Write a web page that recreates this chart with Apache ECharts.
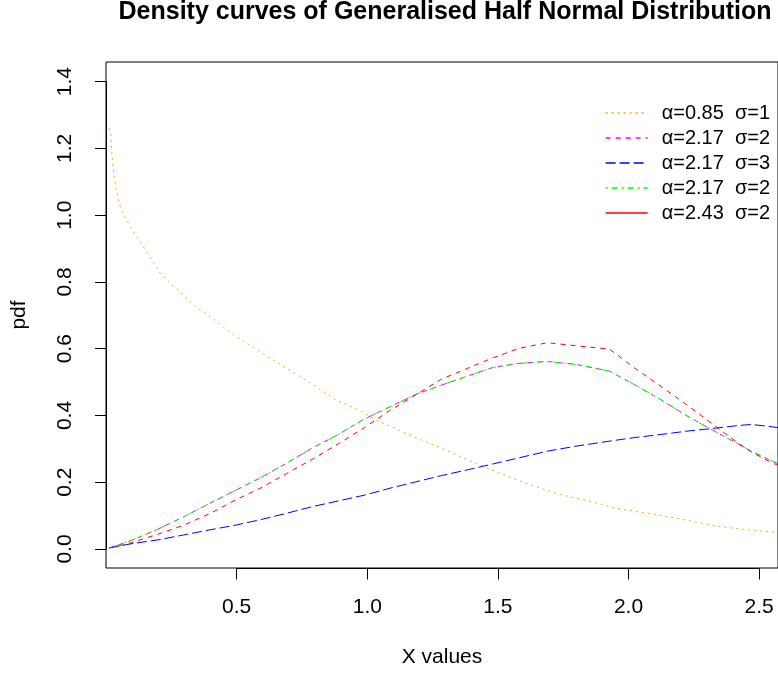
<!DOCTYPE html>
<html>
<head>
<meta charset="utf-8">
<script src="https://cdn.jsdelivr.net/npm/echarts@6/dist/echarts.min.js"></script>
<style>
html, body { margin: 0; padding: 0; background: #fff; }
#chart { width: 778px; height: 673px; }
</style>
</head>
<body>
<div id="chart"></div>
<script>
// values

// orange curve, alpha=0.85 sigma=1
var xOrange = [0.013, 0.019, 0.023, 0.028, 0.034, 0.044, 0.057, 0.072, 0.095, 0.12, 0.146, 0.184, 0.209, 0.248, 0.292, 0.343,
	0.42, 0.48, 0.58, 0.68, 0.79, 0.89, 0.99, 1.04, 1.12, 1.21, 1.3, 1.41, 1.46, 1.57, 1.66, 1.76, 1.89, 1.97, 2.07, 2.12,
	2.25, 2.37, 2.5, 2.56, 2.63];
var yOrange = [1.26, 1.24, 1.18, 1.14, 1.10, 1.06, 1.02, 0.995, 0.964, 0.934, 0.904, 0.856, 0.826, 0.796, 0.766, 0.728,
	0.686, 0.648, 0.598, 0.55, 0.497, 0.446, 0.412, 0.387, 0.36, 0.329, 0.301, 0.263, 0.247, 0.212, 0.187, 0.162, 0.139, 0.122, 0.109, 0.104,
	0.085, 0.067, 0.055, 0.051, 0.046];

// the other four curves share these x values
var xShared = [0.013, 0.1, 0.2, 0.3, 0.4, 0.5, 0.6, 0.7, 0.8, 0.9, 1.0, 1.1, 1.2, 1.3, 1.4, 1.5, 1.6, 1.71, 1.82, 1.95,
	2.05, 2.15, 2.25, 2.35, 2.45, 2.5, 2.56, 2.63];
var yA217S2 = [0.002, 0.025, 0.058, 0.095, 0.135, 0.174, 0.213, 0.256, 0.302, 0.342, 0.388, 0.425, 0.462, 0.49, 0.517, 0.543, 0.555, 0.561, 0.552, 0.532,
	0.49, 0.446, 0.398, 0.355, 0.313, 0.292, 0.27, 0.245];
var yA217S3 = [0.002, 0.015, 0.026, 0.041, 0.056, 0.07, 0.087, 0.106, 0.126, 0.143, 0.16, 0.181, 0.2, 0.219, 0.236, 0.254, 0.272, 0.292, 0.307, 0.322,
	0.333, 0.342, 0.352, 0.36, 0.369, 0.372, 0.367, 0.36];
var yA243S2 = [0.002, 0.018, 0.043, 0.07, 0.104, 0.145, 0.182, 0.225, 0.268, 0.314, 0.362, 0.414, 0.461, 0.508, 0.54, 0.572, 0.6, 0.617, 0.608, 0.598,
	0.54, 0.486, 0.431, 0.373, 0.315, 0.29, 0.265, 0.24];

var legendLabels = ['α=0.85  σ=1', 'α=2.17  σ=2', 'α=2.17  σ=3', 'α=2.17  σ=2', 'α=2.43  σ=2'];
var xTicks = { min: 0.5, max: 2.5, step: 0.5 };
var yTicks = { min: 0, max: 1.4, step: 0.2 };

var FONT = '"Liberation Sans", Arial, sans-serif';

// line look of each curve: colour, dash in the plot, dash in the legend
var styles = [
	{ color: '#FFA500', dash: [2, 4], key: [2, 4] },
	{ color: '#FF00FF', dash: [5, 5], key: [5, 5] },
	{ color: '#0000FF', dash: [10, 4], key: [10, 4] },
	{ color: '#00FF00', dash: [2, 4, 6, 4], key: [2, 4, 6, 4] },
	{ color: '#FF0000', dash: [5, 5], key: 'solid' } // legend shows red solid
];

function pairs(xs, ys) {
	var out = [];
	for (var i = 0; i < xs.length; i++) out.push([xs[i], ys[i]]);
	return out;
}

function curve(i, xs, ys) {
	return {
		name: 's' + i,
		type: 'line',
		xAxisIndex: 0,
		yAxisIndex: 0,
		data: pairs(xs, ys),
		symbol: 'none',
		showSymbol: false,
		clip: true,
		lineStyle: { color: styles[i].color, width: 1, type: styles[i].dash },
		itemStyle: { color: styles[i].color },
		emphasis: { disabled: true }
	};
}

var myChart = echarts.init(document.getElementById('chart'), null, { renderer: 'canvas' });

var option = {
	animation: false,
	backgroundColor: '#fff',
	graphic: [{
		type: 'text',
		x: 445,
		y: 0,
		style: {
			text: 'Density curves of Generalised Half Normal Distribution',
			font: 'bold 25px ' + FONT,
			fill: '#000',
			align: 'center', textAlign: 'center',
			verticalAlign: 'top', textVerticalAlign: 'top'
		}
	}],
	grid: [
		// plot box (right side falls off the picture)
		{ left: 106, top: 62, width: 680, height: 506.5, show: true, borderColor: '#000', borderWidth: 1, backgroundColor: 'transparent' },
		// x tick axis
		{ left: 236.7, top: 62, width: 522.4, height: 506.5, show: false },
		// y tick axis
		{ left: 106, top: 81.7, width: 600, height: 467.3, show: false }
	],
	xAxis: [
		{
			gridIndex: 0, type: 'value', min: 0, max: 680 / 261.2,
			axisLine: { show: false }, axisTick: { show: false }, axisLabel: { show: false }, splitLine: { show: false },
			name: 'X values', nameLocation: 'middle', nameGap: 79,
			nameTextStyle: { fontSize: 21, color: '#000', fontFamily: FONT }
		},
		{
			gridIndex: 1, type: 'value', min: xTicks.min, max: xTicks.max, interval: xTicks.step,
			axisLine: { show: true, onZero: false, lineStyle: { color: '#000', width: 1 } },
			axisTick: { show: true, length: 11, lineStyle: { color: '#000', width: 1 } },
			axisLabel: { margin: 28, fontSize: 21, color: '#000', fontFamily: FONT, formatter: function(v) { return v.toFixed(1); } },
			splitLine: { show: false }
		},
		{ gridIndex: 2, type: 'value', show: false }
	],
	yAxis: [
		{
			gridIndex: 0, type: 'value', min: -0.058, max: 1.458,
			axisLine: { show: false }, axisTick: { show: false }, axisLabel: { show: false }, splitLine: { show: false },
			name: 'pdf', nameLocation: 'middle', nameGap: 76, nameRotate: 90,
			nameTextStyle: { fontSize: 21, color: '#000', fontFamily: FONT }
		},
		{ gridIndex: 1, type: 'value', show: false },
		{
			gridIndex: 2, type: 'value', min: yTicks.min, max: yTicks.max, interval: yTicks.step,
			axisLine: { show: true, onZero: false, lineStyle: { color: '#000', width: 1 } },
			axisTick: { show: true, length: 11, lineStyle: { color: '#000', width: 1 } },
			axisLabel: { rotate: 90, margin: 30, fontSize: 21, color: '#000', fontFamily: FONT, formatter: function(v) { return v.toFixed(1); } },
			splitLine: { show: false }
		}
	],
	legend: {
		orient: 'vertical',
		left: 600,
		top: 95.5,
		itemWidth: 42,
		itemHeight: 14,
		itemGap: 0,
		itemStyle: { opacity: 0, borderWidth: 0 }, // hide marker, keep line sample
		selectedMode: false,
		textStyle: { fontSize: 20, color: '#000', fontFamily: FONT, lineHeight: 25, padding: [0, 0, 0, 9] },
		formatter: function(name) { return legendLabels[+name.slice(1)]; },
		data: styles.map(function(s, i) {
			return { name: 's' + i, lineStyle: { color: s.color, width: 1.3, type: s.key } };
		})
	},
	series: [
		curve(0, xOrange, yOrange),
		curve(1, xShared, yA217S2),
		curve(2, xShared, yA217S3),
		curve(3, xShared, yA217S2),
		curve(4, xShared, yA243S2)
	]
};

myChart.setOption(option);
</script>
</body>
</html>
